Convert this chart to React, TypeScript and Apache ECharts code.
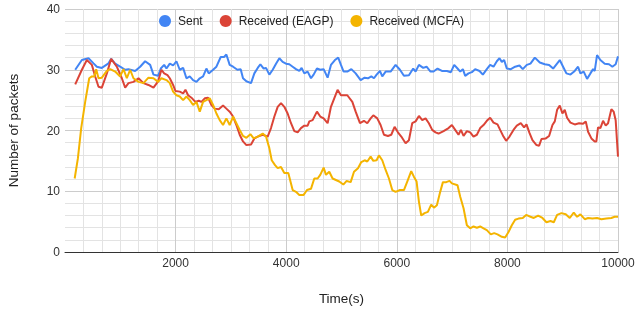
import React, { useEffect, useRef } from "react";
import * as echarts from "echarts";

const seriesNames = ["Sent", "Received (EAGP)", "Received (MCFA)"];
const xTicks = [2000, 4000, 6000, 8000, 10000];
const yTicks = [0, 10, 20, 30, 40];

const sent: number[][] = [
  [185,30],[305,31.6],[425,31.9],[516,31.05],[576,30.5],[666,30.3],[787,31.05],[835,31.8],[907,31],[997,30.5],[1088,30],[1148,30.1],[1268,29.8],[1359,30.5],[1449,31.4],[1540,30.8],[1600,29.2],[1684,29.0],[1732,30.2],[1793,30.8],[1835,30.2],[1895,31],[1955,30.7],[2015,31.4],[2075,30],[2136,30.3],[2196,28.6],[2256,28.9],[2316,28.3],[2377,28.0],[2437,28.6],[2497,28.9],[2557,30.2],[2599,29.4],[2678,30],[2738,30.5],[2816,32.1],[2876,32.1],[2918,32.5],[2978,30.8],[3039,30.5],[3117,30],[3177,30.1],[3219,28.6],[3280,28.1],[3364,27.8],[3424,29.4],[3485,30.3],[3533,30.9],[3593,30.2],[3635,30.3],[3695,29.2],[3756,30],[3816,31],[3876,31.9],[3936,31.3],[3996,31],[4056,30.9],[4117,30.5],[4177,30.1],[4237,29.8],[4279,30.3],[4327,29.4],[4388,29.7],[4448,28.6],[4496,29.2],[4556,30.2],[4616,30],[4677,30.1],[4749,28.7],[4809,30.8],[4881,31.6],[4941,32],[4990,30.8],[5038,29.7],[5105,29.7],[5178,30.1],[5256,29.4],[5346,28.3],[5418,28.7],[5479,28.6],[5539,28.9],[5587,28.6],[5635,29.2],[5695,29.8],[5737,28.9],[5798,29.7],[5888,29.7],[5978,30.8],[6057,30],[6129,29],[6219,29.1],[6297,30.2],[6340,29.7],[6400,30.8],[6478,30.3],[6538,30.5],[6610,29.7],[6665,29.7],[6737,30.2],[6816,29.8],[6906,29.8],[6978,29.6],[7038,30.8],[7098,30.2],[7147,29.7],[7195,30.1],[7237,29],[7297,29.4],[7357,29.6],[7417,30.1],[7496,29.8],[7556,29.2],[7628,30.1],[7688,30.8],[7749,30.5],[7809,31.4],[7857,31.9],[7899,31.3],[7941,31.6],[7989,30.2],[8062,30.1],[8140,30.5],[8218,30.7],[8278,30.1],[8351,30.8],[8417,31],[8496,32],[8586,31.2],[8676,30.9],[8754,30.8],[8827,30.2],[8887,30.9],[8947,31.6],[9007,30.5],[9067,29.4],[9140,29.2],[9218,29.8],[9278,30.5],[9320,29.4],[9380,29.7],[9441,28.5],[9501,29.4],[9549,30.1],[9579,29.8],[9621,32.4],[9681,31.6],[9760,31],[9838,30.9],[9898,30.5],[9958,30.9],[10000,32.2]
];

const receivedEAGP: number[][] = [
  [185,27.6],[305,30],[395,31.6],[486,30.8],[546,28.9],[606,27.2],[666,27.05],[757,29.4],[835,31.8],[937,30.5],[1028,28.6],[1088,27.05],[1148,27.8],[1238,28],[1329,28.6],[1419,27.8],[1509,27.5],[1600,27.05],[1684,28.1],[1744,30],[1793,29.4],[1853,29.1],[1895,28.6],[1955,27.5],[1997,26.5],[2075,26.4],[2136,26.1],[2178,26.7],[2226,25.8],[2298,25.3],[2358,24.7],[2419,24.9],[2467,24.7],[2527,25.3],[2587,25.4],[2648,24.2],[2708,23.6],[2780,23.5],[2858,24.1],[2918,23.6],[2978,23.1],[3039,22.3],[3099,20.9],[3159,19.3],[3219,18.2],[3280,17.6],[3364,17.7],[3424,18.7],[3485,19],[3575,19.3],[3665,19],[3725,20.4],[3786,22.3],[3846,23.9],[3906,24.5],[3966,23.9],[4026,22.8],[4087,21.2],[4147,19.9],[4207,19.7],[4267,20.4],[4327,20.8],[4388,20.8],[4418,21.5],[4478,21.7],[4556,23.1],[4616,22.3],[4677,22],[4749,21.2],[4809,23.9],[4869,25.3],[4929,26.7],[4990,25.8],[5105,25.8],[5196,24.7],[5256,23.1],[5334,21.2],[5406,21.6],[5466,21.2],[5527,22],[5575,22.5],[5647,22],[5707,20.9],[5768,19.3],[5840,19.1],[5900,19.3],[5960,20.6],[6020,19.7],[6081,19],[6159,17.9],[6219,18.4],[6279,21.2],[6340,21.5],[6400,22.4],[6460,21.7],[6520,22],[6580,21.2],[6640,20.1],[6700,19.7],[6755,19.5],[6846,19.9],[6936,20.4],[6996,20.9],[7056,20.1],[7116,19.3],[7159,20.1],[7207,19.1],[7267,19.9],[7327,19.7],[7387,19],[7448,19.3],[7508,20.4],[7568,20.9],[7628,21.6],[7688,22.1],[7749,21.3],[7821,21],[7869,20.1],[7929,19],[7977,18.3],[8038,19],[8110,20.1],[8170,20.8],[8242,21.2],[8302,20.5],[8345,21.0],[8399,19.6],[8453,18.4],[8526,17.6],[8574,17.5],[8616,18.6],[8694,18.7],[8754,19.1],[8815,20.9],[8857,21.5],[8899,23.4],[8947,24.1],[8995,22.8],[9037,23.4],[9079,22.1],[9140,21.3],[9218,21],[9296,21.2],[9368,21.1],[9417,21.5],[9459,19.8],[9519,18.7],[9579,18.2],[9609,18.2],[9639,20.5],[9681,20.4],[9730,21.6],[9778,20.8],[9820,21.2],[9880,23.5],[9922,23.1],[9958,21.7],[10000,15.7]
];

const receivedMCFA: number[][] = [
  [175,12.1],[233,15.4],[293,20.4],[365,24.7],[438,28.6],[486,28.9],[530,28.9],[564,30.1],[606,28.6],[666,28.7],[757,29.8],[817,30.1],[907,29.7],[997,28.9],[1058,30.1],[1118,28.6],[1178,30],[1238,28.6],[1329,28],[1419,27.8],[1509,28.7],[1600,28.6],[1684,28],[1744,28.6],[1835,28.3],[1895,27.8],[1955,26.4],[2015,25.8],[2075,25.6],[2136,25],[2196,25.6],[2256,25],[2316,24.2],[2377,24.7],[2437,23.1],[2497,24.7],[2557,25],[2617,25.3],[2678,24.2],[2738,22.8],[2798,21.7],[2858,20.9],[2918,22],[2978,20.9],[3039,22.3],[3099,21.2],[3159,20.1],[3219,19.1],[3280,18.8],[3352,19.4],[3412,18.7],[3485,19],[3575,19.5],[3635,19],[3695,17.1],[3738,15.1],[3798,14.3],[3846,13.8],[3906,14],[3966,13],[4038,13],[4117,10.2],[4177,9.9],[4237,9.4],[4315,9.4],[4376,10.2],[4448,10.4],[4508,12.1],[4568,12.1],[4616,12.7],[4677,13.9],[4719,12.7],[4779,13.2],[4839,12.1],[4899,11.85],[4959,11.6],[5033,11.1],[5093,11.7],[5166,11.5],[5226,13.2],[5298,13.8],[5358,14.8],[5418,15.1],[5466,14.9],[5527,15.7],[5575,15],[5635,15.1],[5677,15.9],[5737,15.1],[5798,13.5],[5858,12.1],[5918,10.2],[5978,9.9],[6057,10.2],[6129,10.2],[6189,11.6],[6261,13.3],[6309,12.4],[6358,11.6],[6400,8.3],[6442,6.0],[6502,6.4],[6562,6.6],[6622,7.8],[6671,7.3],[6725,7.7],[6785,9.9],[6834,11.5],[6894,11.5],[6954,11.7],[6996,11.3],[7098,11.0],[7147,9.1],[7207,7.2],[7267,4.4],[7327,3.9],[7387,4.2],[7448,4.0],[7508,4.2],[7568,3.9],[7628,3.6],[7700,2.9],[7761,3.1],[7821,2.9],[7899,2.5],[7959,2.4],[8020,3.3],[8080,4.4],[8140,5.3],[8200,5.5],[8278,5.6],[8339,6.1],[8417,5.8],[8477,5.6],[8556,6.0],[8634,5.6],[8706,4.9],[8779,5.1],[8839,4.9],[8899,6.1],[8977,6.4],[9055,6.2],[9128,5.6],[9200,6.5],[9260,5.8],[9320,6.2],[9399,5.4],[9459,5.6],[9537,5.5],[9621,5.6],[9700,5.4],[9790,5.5],[9880,5.6],[9940,5.8],[10000,5.8]
];

const colors = ["#4285F4", "#DB4437", "#F4B400"];
const FONT = "'Liberation Sans', Arial, sans-serif";

export default function App() {
  const ref = useRef<HTMLDivElement>(null);
  useEffect(() => {
    if (!ref.current) return;
    const chart = echarts.init(ref.current, null, { renderer: "svg" });
    const dataSets = [sent, receivedEAGP, receivedMCFA];
    chart.setOption({
      animation: false,
      color: colors,
      textStyle: { fontFamily: FONT },
      grid: {
        left: 65,
        right: 19,
        top: 9,
        bottom: 57,
        containLabel: false,
        outerBoundsMode: "none",
      },
      legend: {
        data: seriesNames.map((n) => ({ name: n, icon: "circle" })),
        left: 159,
        top: 15,
        padding: 0,
        itemWidth: 12,
        itemHeight: 12,
        itemGap: 17,
        textStyle: { fontSize: 12, color: "#222", fontFamily: FONT, padding: [0, 0, 0, 2] },
      },
      xAxis: {
        type: "value",
        min: 0,
        max: 10000,
        interval: 2000,
        name: "Time(s)",
        nameLocation: "middle",
        nameGap: 39,
        nameTextStyle: { fontSize: 13.5, color: "#222", fontFamily: FONT },
        axisLine: { show: true, onZero: false, lineStyle: { color: "#333", width: 1 } },
        axisTick: { show: false },
        axisLabel: {
          fontSize: 12,
          color: "#333",
          margin: 5,
          fontFamily: FONT,
          formatter: (v: number) => (xTicks.includes(v) ? String(v) : ""),
        },
        splitLine: { show: true, showMinLine: false, lineStyle: { color: "#cccccc", width: 1 } },
        minorTick: { show: true, splitNumber: 6, length: 0, lineStyle: { color: "transparent" } },
        minorSplitLine: { show: true, lineStyle: { color: "#e3e3e3", width: 1 } },
      },
      yAxis: {
        type: "value",
        min: 0,
        max: 40,
        interval: 10,
        name: "Number of packets",
        nameLocation: "middle",
        nameGap: 45,
        nameTextStyle: { fontSize: 13.5, color: "#222", fontFamily: FONT },
        axisLine: { show: false },
        axisTick: { show: false },
        axisLabel: {
          fontSize: 12,
          color: "#333",
          margin: 5,
          fontFamily: FONT,
          formatter: (v: number) => (yTicks.includes(v) ? String(v) : ""),
        },
        splitLine: { show: true, lineStyle: { color: "#cccccc", width: 1 } },
        minorTick: { show: true, splitNumber: 5, length: 0, lineStyle: { color: "transparent" } },
        minorSplitLine: { show: true, lineStyle: { color: "#e3e3e3", width: 1 } },
      },
      series: seriesNames.map((name, i) => ({
        name,
        type: "line",
        data: dataSets[i],
        showSymbol: false,
        symbol: "none",
        lineStyle: { width: 2, color: colors[i] },
        itemStyle: { color: colors[i] },
        z: 2 + i,
      })),
    });
    return () => chart.dispose();
  }, []);
  return (
    <div
      ref={ref}
      style={{ position: "fixed", left: 0, top: 0, width: 637, height: 309 }}
    />
  );
}
